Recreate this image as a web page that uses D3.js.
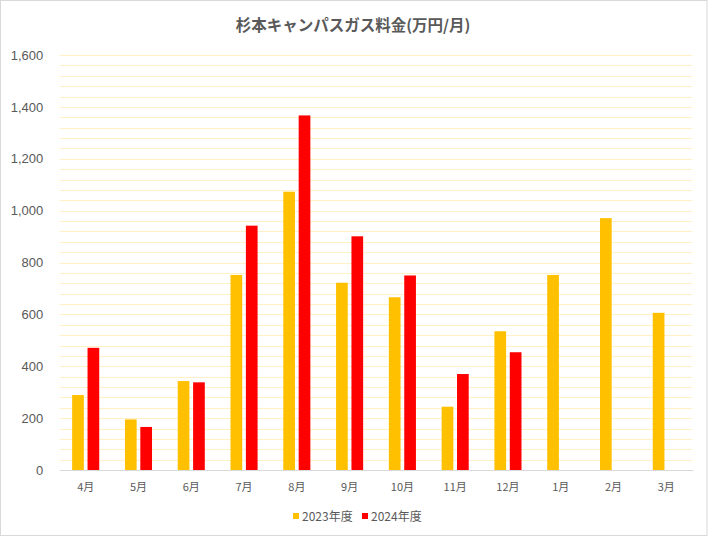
<!DOCTYPE html>
<html><head><meta charset="utf-8">
<script src="https://cdn.jsdelivr.net/npm/d3@7/dist/d3.min.js"></script>
<style>body{margin:0;background:#fff}svg{display:block}</style>
</head><body><svg id="c" width="708" height="538"></svg>
<script>
const months = ["4月","5月","6月","7月","8月","9月","10月","11月","12月","1月","2月","3月"];
const seriesNames = ["2023年度","2024年度"];
const values2023 = [289,195,343,752,1073,722,666,244,535,752,971,606];
const values2024 = [471,166,338,942,1367,901,750,370,454,null,null,null];
const yTicks = [0,200,400,600,800,1000,1200,1400,1600];
const colors = ["#FFC000","#FF0000"];

(function(){
const svg = d3.select("#c");
const W = 708, H = 538;
const mLeft = 59.3, mRight = 692.7, mTop = 55, mBottom = 470;
const jp = "'Noto Sans CJK JP','Noto Sans',sans-serif";
const num = "'Liberation Sans','DejaVu Sans',sans-serif";

svg.append("rect").attr("x",0.5).attr("y",0.5).attr("width",W-1.5).attr("height",535)
  .attr("fill","#fff").attr("stroke","#d9d9d9");

const x0 = d3.scaleBand().domain(months).range([mLeft,mRight]).paddingInner(0).paddingOuter(0);
const x1 = d3.scaleBand().domain(seriesNames).range([12.85, x0.bandwidth()-12.85]).paddingInner(0.24).paddingOuter(0);
const y = d3.scaleLinear().domain([0,1600]).range([mBottom,mTop]);

const grid = d3.range(40,1601,40);
svg.append("g").selectAll("line").data(grid).join("line")
  .attr("x1",mLeft).attr("x2",mRight)
  .attr("y1",d=>Math.round(y(d))+0.5).attr("y2",d=>Math.round(y(d))+0.5)
  .attr("stroke","#FFF0C6").attr("stroke-width",1);

const data = months.map((m,i)=>({m, vals:[values2023[i],values2024[i]]}));
const g = svg.append("g");
data.forEach(d=>{
  d.vals.forEach((v,j)=>{
    if(v==null) return;
    g.append("rect")
      .attr("x",x0(d.m)+x1(seriesNames[j]))
      .attr("width",x1.bandwidth())
      .attr("y",y(v)).attr("height",y(0)-y(v))
      .attr("fill",colors[j]);
  });
});

const xAxis = d3.axisBottom(x0).tickSize(0).tickPadding(13);
const xg = svg.append("g").attr("transform",`translate(0,${mBottom})`).call(xAxis);
xg.select(".domain").attr("stroke","#d9d9d9");
xg.selectAll("text").attr("fill","#595959").style("font-family",jp).style("font-size","11px");

const yAxis = d3.axisLeft(y).tickValues(yTicks).tickSize(0).tickPadding(16).tickFormat(d3.format(","));
const yg = svg.append("g").attr("transform",`translate(${mLeft},0)`).call(yAxis);
yg.select(".domain").remove();
yg.selectAll("text").attr("fill","#595959").style("font-family",num).style("font-size","13px");

svg.append("text").attr("x",353).attr("y",31).attr("text-anchor","middle")
  .attr("fill","#595959").style("font-family",jp).style("font-weight","bold").style("font-size","15.5px")
  .text("杉本キャンパスガス料金(万円/月)");

const leg = svg.append("g");
const lx = [293, 362];
seriesNames.forEach((s,i)=>{
  leg.append("rect").attr("x",lx[i]).attr("y",513).attr("width",6).attr("height",6).attr("fill",colors[i]);
  leg.append("text").attr("x",lx[i]+9).attr("y",521).attr("fill","#595959")
    .style("font-family",jp).style("font-size","12px").text(s);
});
})();
</script></body></html>
